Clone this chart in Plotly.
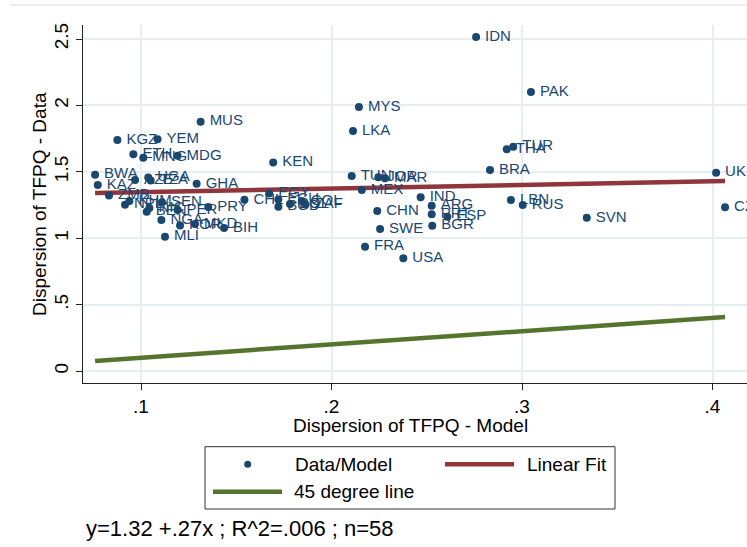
import plotly.graph_objects as go

# Country codes with dispersion of TFPQ: model (x) vs data (y)
countries = [
    "IDN", "PAK", "MYS", "MUS", "LKA", "KGZ", "YEM", "ETH", "MNG", "MDG",
    "KEN", "THA", "TUR", "BRA", "UKR", "CZE", "LBN", "RUS", "SVN", "BWA",
    "KAZ", "GHA", "TUN", "JOR", "MAR", "MEX", "IND", "ARG", "PRT", "ESP",
    "BGR", "CHN", "SWE", "FRA", "USA", "CHL", "EGY", "ECU", "BGD", "BOL",
    "COL", "ZAF", "PRY", "PER", "SEN", "NGA", "MLI", "BIH", "MKD", "KOR",
    "ZMB", "NPL", "KHM", "AZE", "UGA", "TZA", "BEN", "NIC",
]
model = [
    0.2759, 0.3047, 0.2144, 0.1313, 0.2113, 0.0876, 0.1087, 0.0960, 0.1012, 0.1192,
    0.1694, 0.2920, 0.2954, 0.2832, 0.4019, 0.4066, 0.2942, 0.3004, 0.3340, 0.0759,
    0.0773, 0.1292, 0.2106, 0.2246, 0.2281, 0.2159, 0.2468, 0.2526, 0.2526, 0.2608,
    0.2529, 0.2240, 0.2255, 0.2176, 0.2377, 0.1543, 0.1673, 0.1721, 0.1721, 0.1782,
    0.1844, 0.1864, 0.1353, 0.1192, 0.1110, 0.1107, 0.1126, 0.1436, 0.1283, 0.1205,
    0.0832, 0.0916, 0.0939, 0.0969, 0.1038, 0.1051, 0.1030, 0.1044,
]
data = [
    2.515, 2.101, 1.988, 1.877, 1.807, 1.739, 1.745, 1.632, 1.606, 1.620,
    1.570, 1.669, 1.689, 1.514, 1.493, 1.233, 1.288, 1.250, 1.154, 1.478,
    1.401, 1.410, 1.468, 1.459, 1.451, 1.363, 1.308, 1.245, 1.180, 1.162,
    1.094, 1.205, 1.069, 0.936, 0.849, 1.289, 1.337, 1.291, 1.237, 1.258,
    1.280, 1.254, 1.235, 1.212, 1.270, 1.137, 1.011, 1.077, 1.107, 1.096,
    1.322, 1.252, 1.280, 1.438, 1.457, 1.434, 1.200, 1.227,
]

# Reported linear fit: y = 1.32 + .27x
fit_intercept = 1.32
fit_slope = 0.27

x_ticks = [0.1, 0.2, 0.3, 0.4]
x_tick_labels = [".1", ".2", ".3", ".4"]
y_ticks = [0, 0.5, 1, 1.5, 2, 2.5]
y_tick_labels = ["0", ".5", "1", "1.5", "2", "2.5"]

NAVY = "#1a476f"
MAROON = "#90353b"
GREEN = "#55752f"
GRID = "#e6eef1"
FONT = "Liberation Sans, Arial, sans-serif"

x_min, x_max = min(model), max(model)
fit_x = [x_min, x_max]
fit_y = [fit_intercept + fit_slope * v for v in fit_x]

fig = go.Figure()

fig.add_trace(go.Scatter(
    x=fit_x, y=fit_x, mode="lines", name="45 degree line",
    line=dict(color=GREEN, width=4.5), showlegend=False,
))
fig.add_trace(go.Scatter(
    x=fit_x, y=fit_y, mode="lines", name="Linear Fit",
    line=dict(color=MAROON, width=4.5), showlegend=False,
))
# marker labels sit a little right of each dot (thin space as a gap)
fig.add_trace(go.Scatter(
    x=model, y=data, mode="markers+text", name="Data/Model",
    text=["\u2009" + c for c in countries], textposition="middle right",
    textfont=dict(family=FONT, size=15, color=NAVY),
    marker=dict(color=NAVY, size=8),
    cliponaxis=False, showlegend=False,
))

# Plot area geometry in pixels
W, H = 747, 547
L, R, T, B = 83, 0, 25, 164
pw, ph = W - L - R, H - T - B


def px(xp):
    return (xp - L) / pw


def py(yp):
    return (H - B - yp) / ph


shapes = [
    # faint border line across the top of the graph region
    dict(type="line", xref="paper", yref="paper", x0=px(10), x1=px(747),
         y0=py(5), y1=py(5), line=dict(color="#e4e8ea", width=1.5)),
    # legend frame
    dict(type="rect", xref="paper", yref="paper", x0=px(205), x1=px(615),
         y0=py(509), y1=py(446.7), line=dict(color="#333333", width=1),
         fillcolor="white"),
    # legend keys
    dict(type="circle", xref="paper", yref="paper", xsizemode="pixel",
         ysizemode="pixel", xanchor=px(247.7), yanchor=py(464.3),
         x0=-3.5, x1=3.5, y0=-3.5, y1=3.5, fillcolor=NAVY,
         line=dict(color=NAVY, width=0)),
    dict(type="line", xref="paper", yref="paper", x0=px(445), x1=px(514),
         y0=py(464.3), y1=py(464.3), line=dict(color=MAROON, width=4.5)),
    dict(type="line", xref="paper", yref="paper", x0=px(213), x1=px(282),
         y0=py(491.7), y1=py(491.7), line=dict(color=GREEN, width=4.5)),
]

annotations = [
    dict(text="Dispersion of TFPQ - Data", xref="paper", yref="paper",
         x=px(39), y=py(204), textangle=-90, showarrow=False,
         font=dict(family=FONT, size=19, color="black"),
         xanchor="center", yanchor="middle"),
    dict(text="Dispersion of TFPQ - Model", xref="paper", yref="paper",
         x=px(410.5), y=py(425), showarrow=False,
         font=dict(family=FONT, size=19, color="black"),
         xanchor="center", yanchor="middle"),
    dict(text="Data/Model", xref="paper", yref="paper", x=px(293), y=py(464.3),
         showarrow=False, xanchor="left", yanchor="middle",
         font=dict(family=FONT, size=19, color="black")),
    dict(text="Linear Fit", xref="paper", yref="paper", x=px(525), y=py(464.3),
         showarrow=False, xanchor="left", yanchor="middle",
         font=dict(family=FONT, size=19, color="black")),
    dict(text="45 degree line", xref="paper", yref="paper", x=px(292), y=py(491.7),
         showarrow=False, xanchor="left", yanchor="middle",
         font=dict(family=FONT, size=19, color="black")),
    dict(text="y=1.32 +.27x ; R^2=.006 ; n=58", xref="paper", yref="paper",
         x=px(84), y=py(528), showarrow=False, xanchor="left", yanchor="middle",
         font=dict(family=FONT, size=22, color="black")),
]

# axis ranges from the tick spacing (0.1 per 190.5 px, 0.5 per 66.4 px)
x_per_px = 0.1 / 190.5
y_per_px = 0.5 / 66.4
x_range = [0.1 - (141 - L) * x_per_px, 0.1 + (W - R - 141) * x_per_px]
y_range = [-(H - B - 371) * y_per_px, (371 - T) * y_per_px]

fig.update_layout(
    width=W, height=H,
    margin=dict(l=L, r=R, t=T, b=B, pad=0),
    paper_bgcolor="white", plot_bgcolor="white",
    font=dict(family=FONT, color="black"),
    shapes=shapes, annotations=annotations,
    xaxis=dict(
        range=x_range, tickvals=x_ticks, ticktext=x_tick_labels,
        showgrid=True, gridcolor=GRID, gridwidth=1.5, zeroline=False,
        showline=True, linecolor="#222222", linewidth=1,
        ticks="outside", ticklen=6, tickcolor="#222222",
        tickfont=dict(family=FONT, size=19, color="black"),
    ),
    yaxis=dict(
        range=y_range, tickvals=y_ticks, ticktext=y_tick_labels,
        showgrid=True, gridcolor=GRID, gridwidth=1.5, zeroline=False,
        showline=True, linecolor="#222222", linewidth=1,
        ticks="outside", ticklen=6, tickcolor="#222222", tickangle=-90,
        tickfont=dict(family=FONT, size=19, color="black"),
    ),
)

fig.write_html("out.html")
